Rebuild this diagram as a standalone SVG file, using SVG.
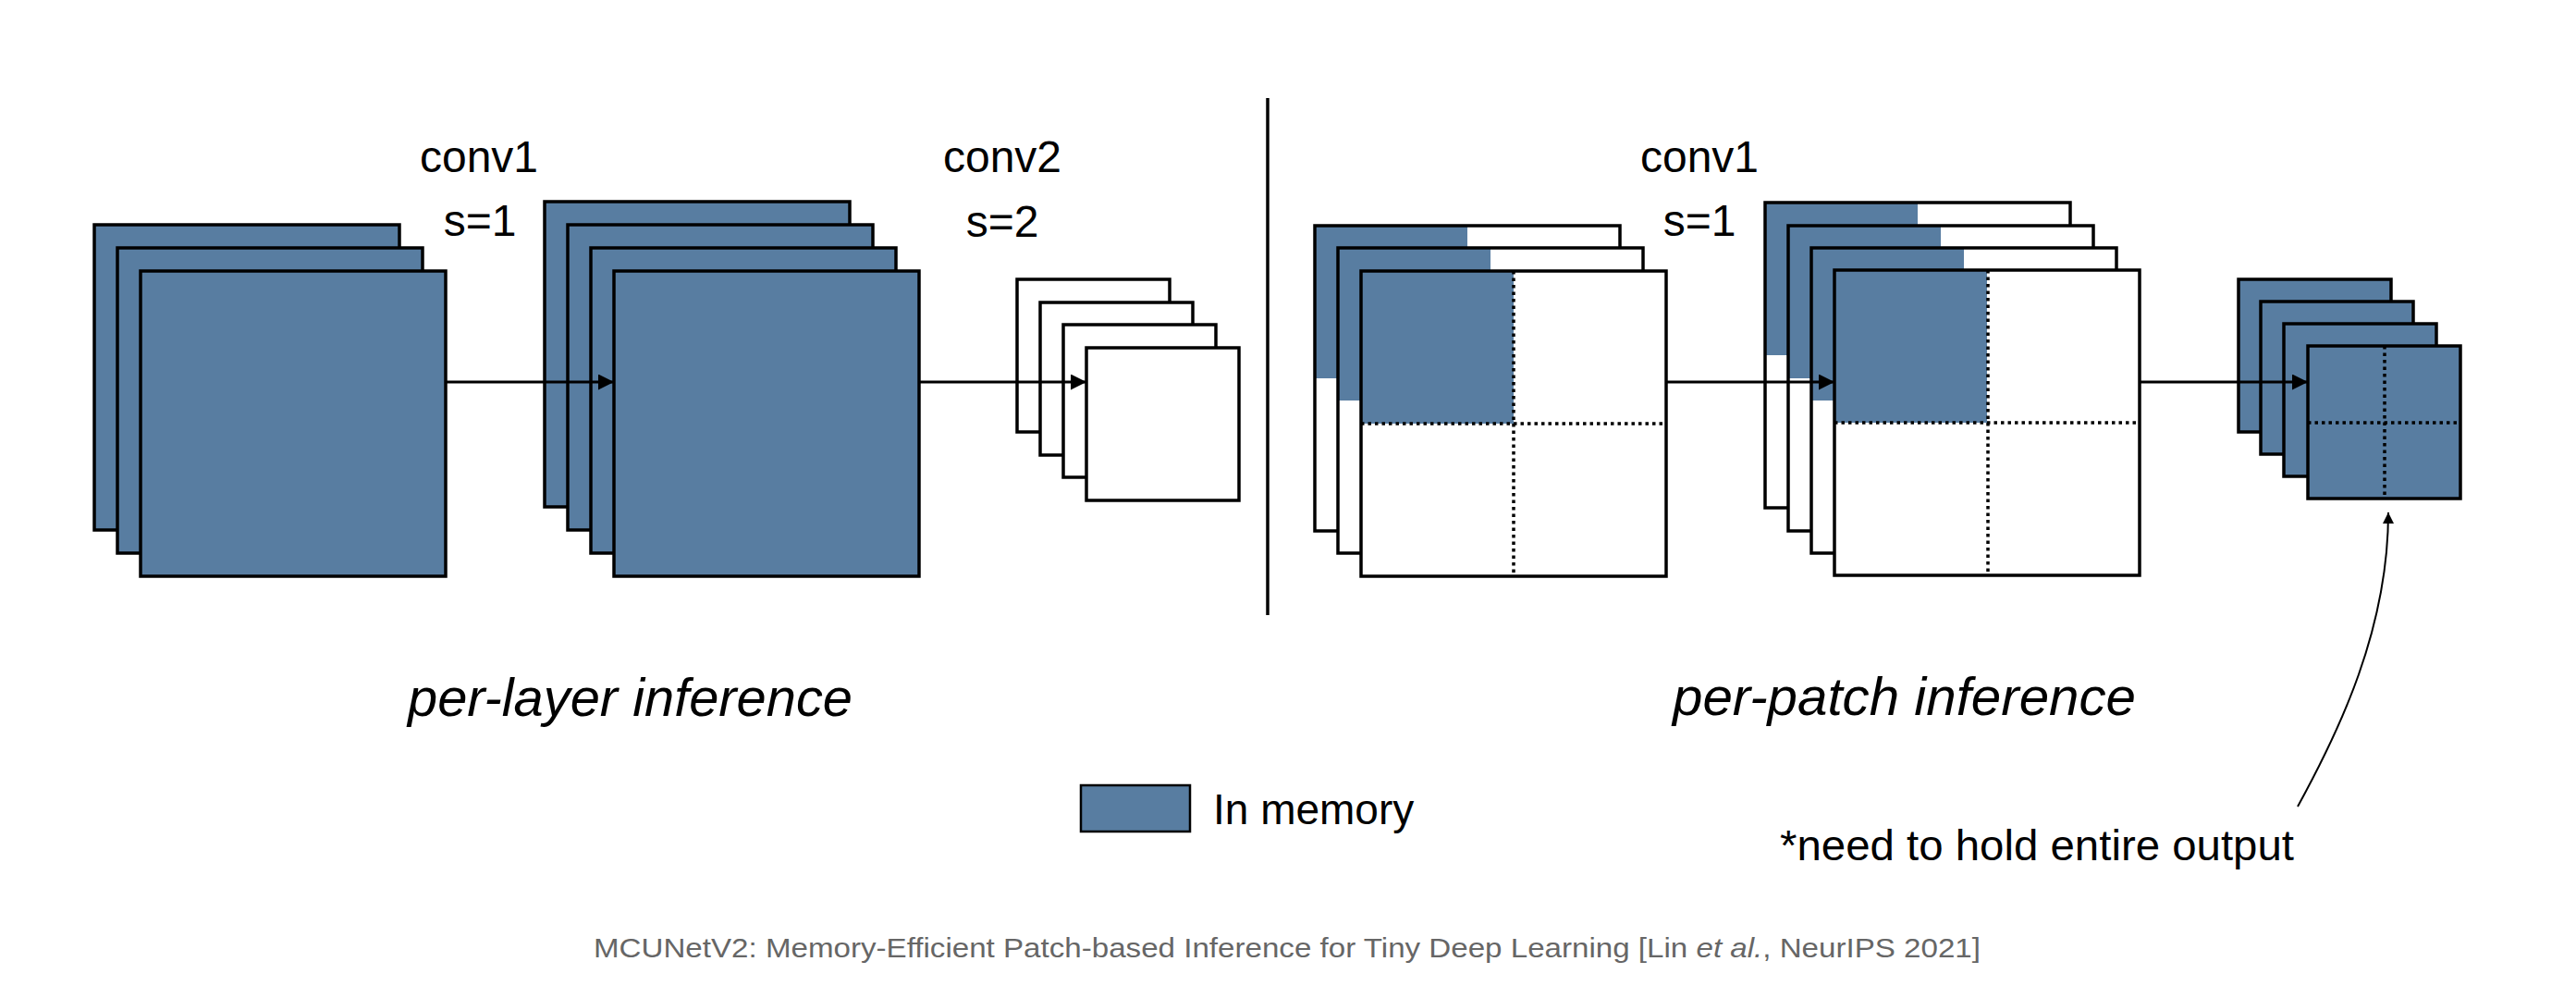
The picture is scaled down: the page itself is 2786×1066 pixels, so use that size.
<svg xmlns="http://www.w3.org/2000/svg" width="2786" height="1066" viewBox="0 0 2786 1066">
<style>
.blue{fill:#587DA1;stroke:#000;stroke-width:3.5}
.white{fill:#fff;stroke:#000;stroke-width:3.5}
.bg{fill:#fff;stroke:none}
.patch{fill:#587DA1;stroke:none}
.outline{fill:none;stroke:#000;stroke-width:3.5}
.dot{fill:none;stroke:#000;stroke-width:3.5;stroke-dasharray:3.5 4}
.arrow{fill:none;stroke:#000;stroke-width:3;marker-end:url(#ah)}
.curve{fill:none;stroke:#000;stroke-width:2;marker-end:url(#ah2)}
.lbl{font-family:"Liberation Sans",Arial,Helvetica,sans-serif;font-size:48px;fill:#000;text-anchor:middle}
.ital{font-family:"Liberation Sans",Arial,Helvetica,sans-serif;font-size:58px;font-style:italic;fill:#000}
.txt{font-family:"Liberation Sans",Arial,Helvetica,sans-serif;font-size:46px;fill:#000}
.cap{font-family:"Liberation Sans",Arial,Helvetica,sans-serif;font-size:30px;fill:#666}
</style>
<defs>
<marker id="ah" markerUnits="userSpaceOnUse" markerWidth="17" markerHeight="17" viewBox="0 0 17 17" refX="17" refY="8.5" orient="auto">
<path d="M0,0 L17,8.5 L0,17 z" fill="#000"/>
</marker>
<marker id="ah2" markerUnits="userSpaceOnUse" markerWidth="12" markerHeight="12" viewBox="0 0 12 12" refX="12" refY="6" orient="auto">
<path d="M0,0 L12,6 L0,12 z" fill="#000"/>
</marker>
</defs>
<rect x="0" y="0" width="2786" height="1066" fill="#fff"/>

<g id="input-per-layer">
<rect class="blue" x="102" y="243" width="330" height="330"/>
<rect class="blue" x="127" y="268" width="330" height="330"/>
<rect class="blue" x="152" y="293" width="330" height="330"/>
</g>

<g id="conv1-out-per-layer">
<rect class="blue" x="589" y="218" width="330" height="330"/>
<rect class="blue" x="614" y="243" width="330" height="330"/>
<rect class="blue" x="639" y="268" width="330" height="330"/>
<rect class="blue" x="664" y="293" width="330" height="330"/>
</g>

<g id="conv2-out-per-layer">
<rect class="white" x="1100" y="302" width="165" height="165"/>
<rect class="white" x="1125" y="327" width="165" height="165"/>
<rect class="white" x="1150" y="351" width="165" height="165"/>
<rect class="white" x="1175" y="376" width="165" height="165"/>
</g>

<g id="divider">
<line x1="1371" y1="106" x2="1371" y2="665" stroke="#000" stroke-width="3.5"/>
</g>

<g id="input-per-patch">
<rect class="bg" x="1422" y="244" width="330" height="330"/>
<rect class="patch" x="1422" y="244" width="165" height="165"/>
<rect class="outline" x="1422" y="244" width="330" height="330"/>
<rect class="bg" x="1447" y="268" width="330" height="330"/>
<rect class="patch" x="1447" y="268" width="165" height="165"/>
<rect class="outline" x="1447" y="268" width="330" height="330"/>
<rect class="bg" x="1472" y="293" width="330" height="330"/>
<rect class="patch" x="1472" y="293" width="165" height="165"/>
<line class="dot" x1="1637" y1="293" x2="1637" y2="623"/>
<line class="dot" x1="1472" y1="458" x2="1802" y2="458"/>
<rect class="outline" x="1472" y="293" width="330" height="330"/>
</g>

<g id="conv1-out-per-patch">
<rect class="bg" x="1909" y="219" width="330" height="330"/>
<rect class="patch" x="1909" y="219" width="165" height="165"/>
<rect class="outline" x="1909" y="219" width="330" height="330"/>
<rect class="bg" x="1934" y="244" width="330" height="330"/>
<rect class="patch" x="1934" y="244" width="165" height="165"/>
<rect class="outline" x="1934" y="244" width="330" height="330"/>
<rect class="bg" x="1959" y="268" width="330" height="330"/>
<rect class="patch" x="1959" y="268" width="165" height="165"/>
<rect class="outline" x="1959" y="268" width="330" height="330"/>
<rect class="bg" x="1984" y="292" width="330" height="330"/>
<rect class="patch" x="1984" y="292" width="165" height="165"/>
<line class="dot" x1="2150" y1="292" x2="2150" y2="622"/>
<line class="dot" x1="1984" y1="457" x2="2314" y2="457"/>
<rect class="outline" x="1984" y="292" width="330" height="330"/>
</g>

<g id="output-per-patch">
<rect class="blue" x="2421" y="302" width="165" height="165"/>
<rect class="blue" x="2445" y="326" width="165" height="165"/>
<rect class="blue" x="2470" y="350" width="165" height="165"/>
<rect class="blue" x="2496" y="374" width="165" height="165"/>
<line class="dot" x1="2579" y1="374" x2="2579" y2="539"/>
<line class="dot" x1="2496" y1="457" x2="2661" y2="457"/>
</g>

<g id="connectors">
<line class="arrow" x1="482" y1="413" x2="664" y2="413"/>
<line class="arrow" x1="994" y1="413" x2="1175" y2="413"/>
<line class="arrow" x1="1802" y1="413" x2="1984" y2="413"/>
<line class="arrow" x1="2314" y1="413" x2="2496" y2="413"/>
<path class="curve" d="M2485,872 C2530,790 2583,680 2583,554"/>
</g>

<g id="labels">
<text class="lbl" x="518" y="186">conv1</text>
<text class="lbl" x="519" y="255">s=1</text>
<text class="lbl" x="1084" y="186">conv2</text>
<text class="lbl" x="1084" y="256">s=2</text>
<text class="lbl" x="1838" y="186">conv1</text>
<text class="lbl" x="1838" y="255">s=1</text>
<text class="ital" x="441" y="774" textLength="481" lengthAdjust="spacingAndGlyphs">per-layer inference</text>
<text class="ital" x="1809" y="773" textLength="501" lengthAdjust="spacingAndGlyphs">per-patch inference</text>
</g>

<g id="legend">
<rect x="1169" y="849" width="118" height="50" fill="#587DA1" stroke="#000" stroke-width="2.5"/>
<text class="txt" x="1312" y="891">In memory</text>
</g>

<g id="note">
<text class="txt" x="1925" y="930" textLength="556" lengthAdjust="spacingAndGlyphs">*need to hold entire output</text>
</g>

<g id="caption">
<text class="cap" x="642" y="1035" textLength="1500" lengthAdjust="spacingAndGlyphs">MCUNetV2: Memory-Efficient Patch-based Inference for Tiny Deep Learning [Lin <tspan font-style="italic">et al.</tspan>, NeurIPS 2021]</text>
</g>
</svg>
